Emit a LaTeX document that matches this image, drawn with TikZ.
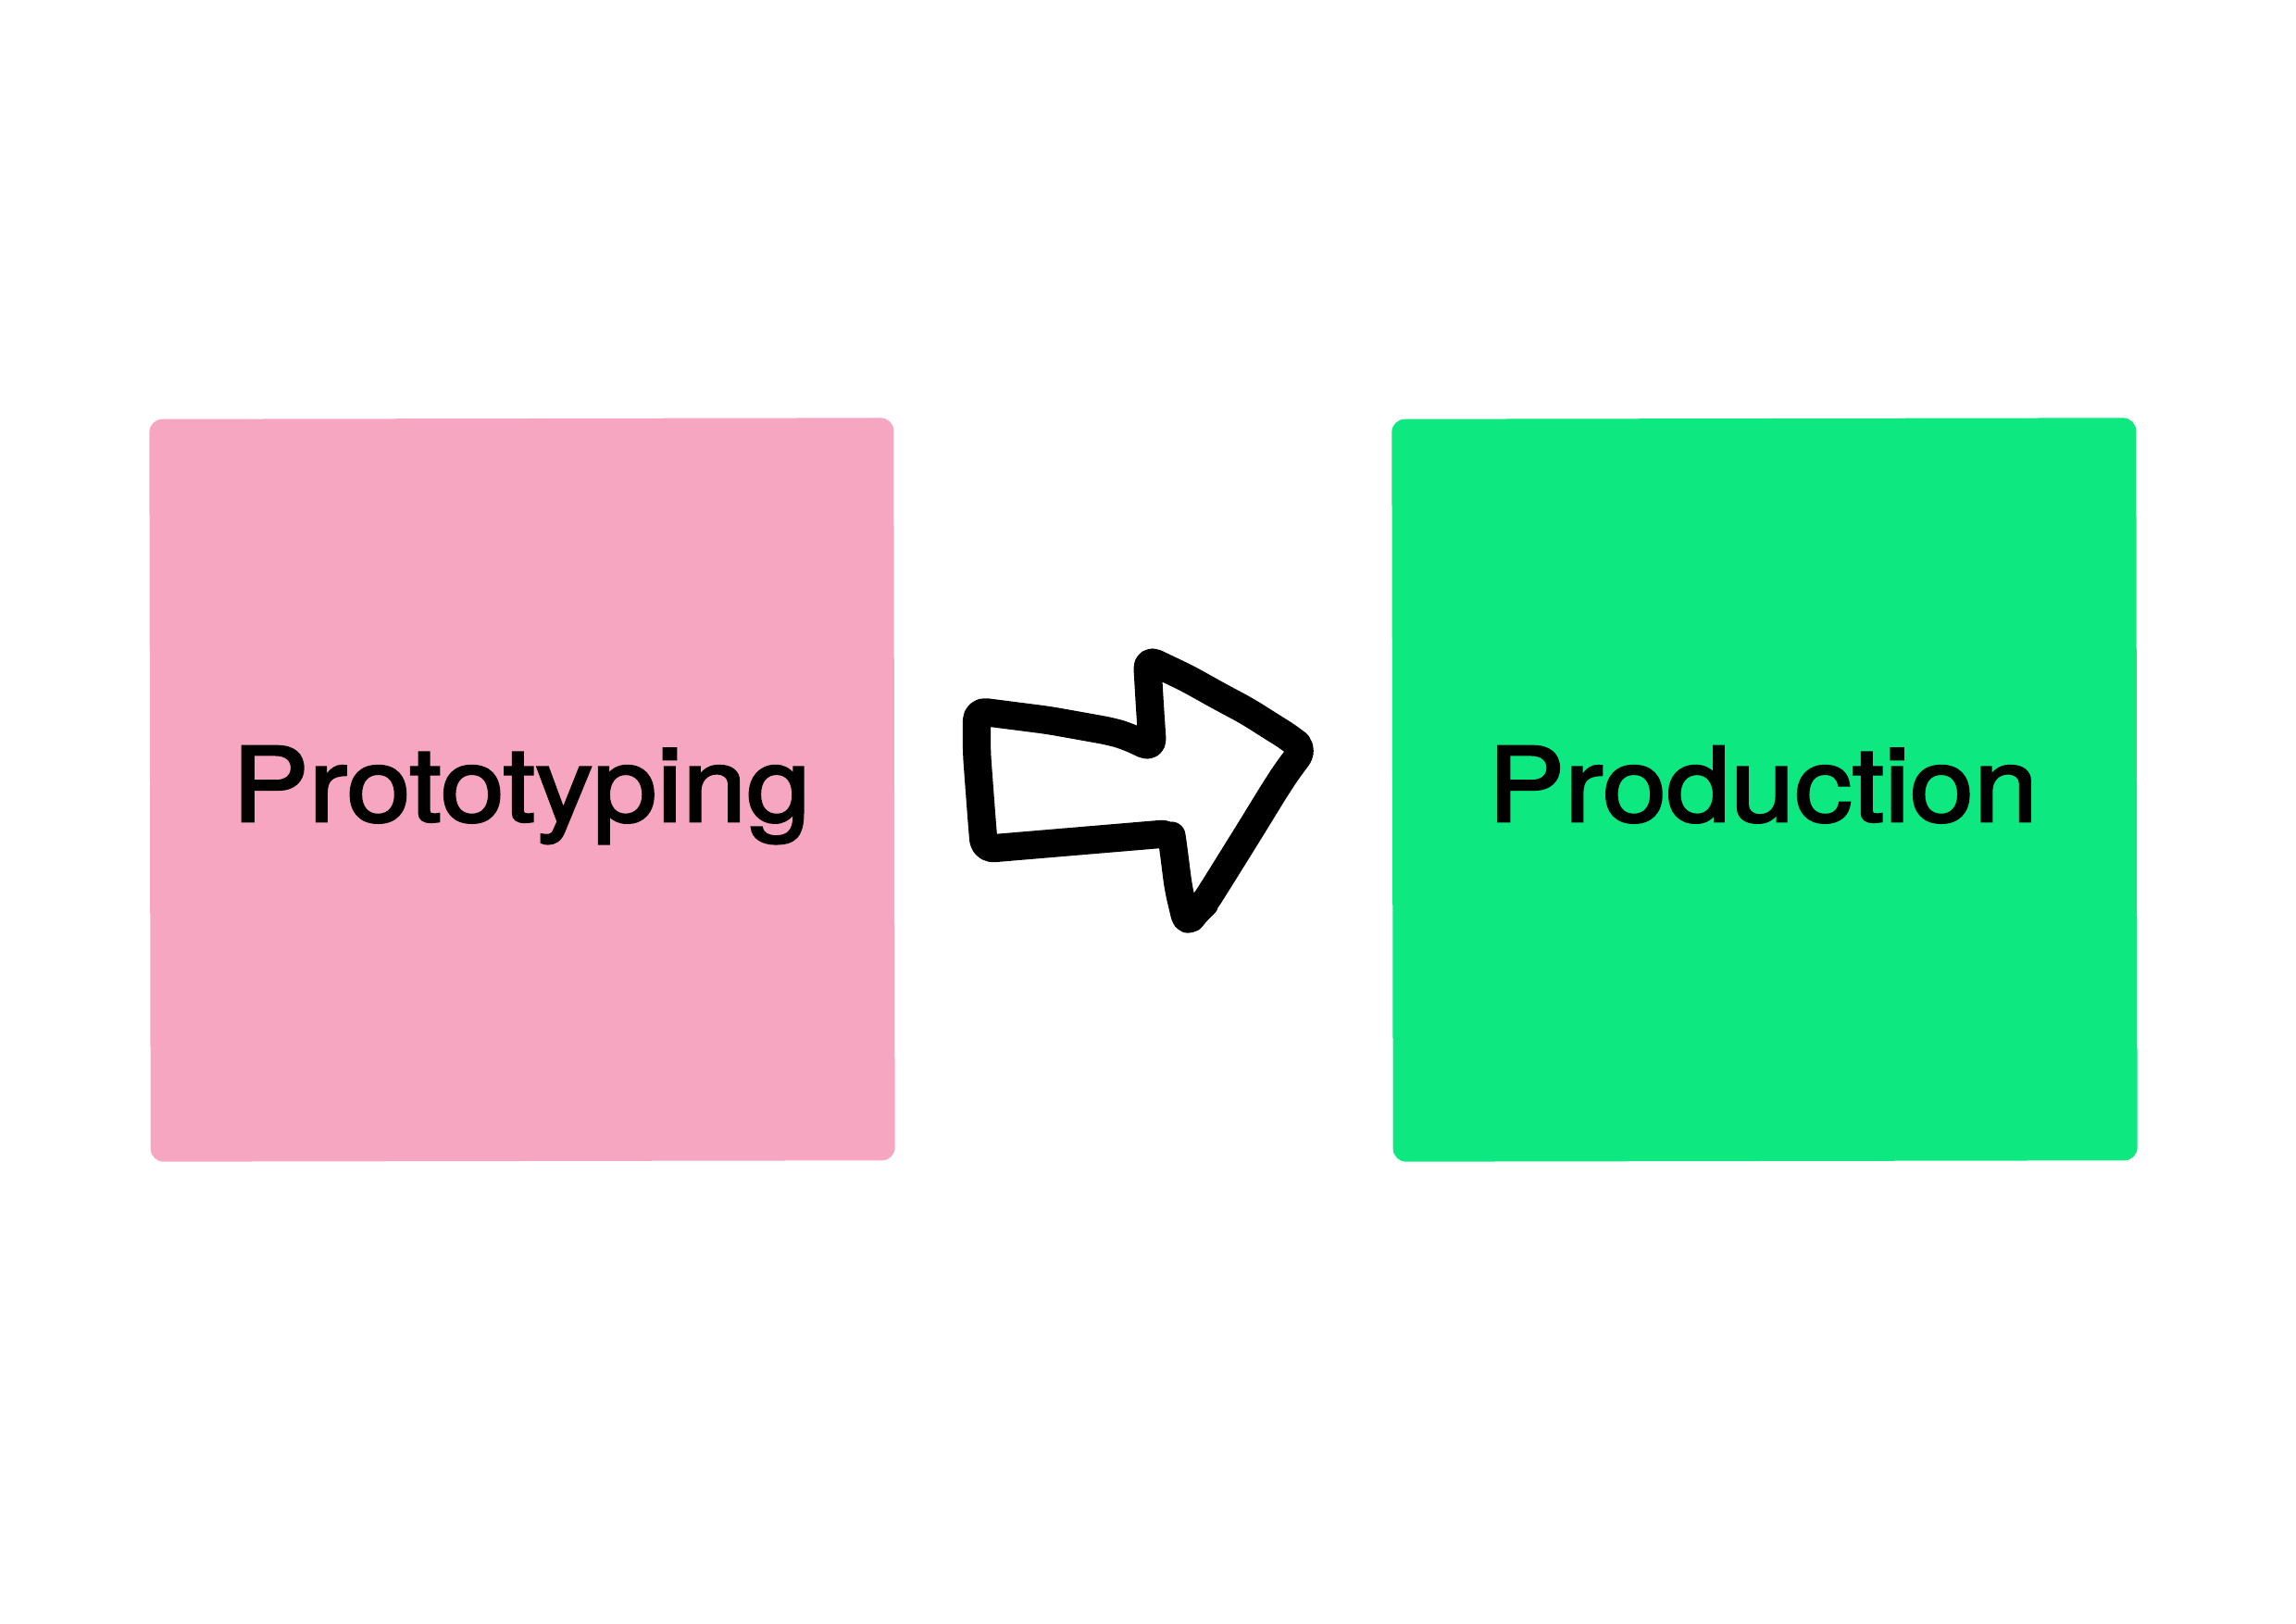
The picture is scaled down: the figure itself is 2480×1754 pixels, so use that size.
\documentclass[tikz,border=0pt]{standalone}
\usepackage{fontspec}
\setmainfont{TeX Gyre Heros}
\newfontfamily\medfont[FakeBold=2.4,FakeStretch=1.12]{TeX Gyre Heros}
\definecolor{stickypink}{RGB}{247,166,194}
\definecolor{stickygreen}{RGB}{13,232,129}
\begin{document}
\begin{tikzpicture}[x=0.1mm,y=-0.1mm,
  sticky/.style={draw=none,rounded corners=4pt,minimum width=80.4mm,minimum height=80.2mm,inner sep=0pt,rotate=0.1},
  lbl/.style={anchor=base,font=\medfont\fontsize{31.6}{38}\selectfont,inner sep=0pt,text=black},
  sketch/.style={line width=8.6pt,line join=round,line cap=round,rounded corners=3pt}]
\useasboundingbox[fill=white] (0,0) rectangle (2480,1754);
\node[sticky,fill=stickypink] (proto) at (564,853) {};
\node[sticky,fill=stickygreen] (prod) at (1906,853) {};
\node[lbl] (protoText) at (563,887) {Prototyping};
\node[lbl] (prodText) at (1904,887) {Production};
\draw[sketch] (1133,778) -- (1200,790) -- (1217,795) -- (1245,808)
  -- (1242,763) -- (1239,712)
  -- (1260,722) -- (1283,733) -- (1317,752) -- (1347,768) -- (1377,787) -- (1393,797) -- (1408,809)
  -- (1390,833) -- (1377,853) -- (1350,897) -- (1317,950) -- (1300,977) -- (1293,983) -- (1282,998)
  -- (1273,960) -- (1270,937) -- (1267,913) -- (1265,900)
  -- (1063,917)
  -- (1060,880) -- (1055,813) -- (1055,768) -- cycle;
\end{tikzpicture}
\end{document}
